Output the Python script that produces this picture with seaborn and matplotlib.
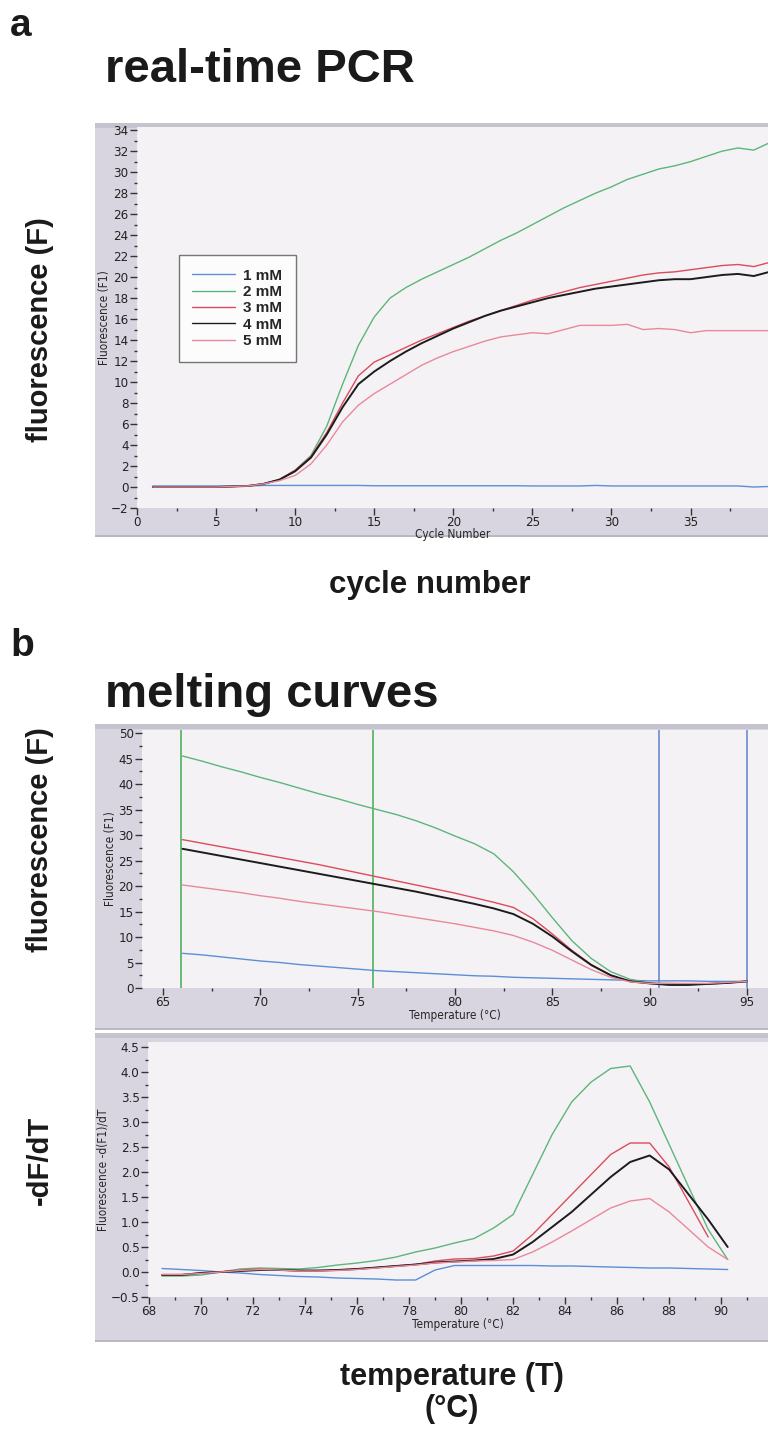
import numpy as np
import pandas as pd
import matplotlib
matplotlib.use("Agg")
import matplotlib.pyplot as plt
import seaborn as sns
from matplotlib import font_manager
from matplotlib.patches import Rectangle
from matplotlib.ticker import MultipleLocator

# ---- a: real-time PCR (fluorescence per cycle) ----
cycles = list(range(1, 41))
pcr_1mM = [0.1, 0.1, 0.1, 0.1, 0.1, 0.1, 0.1, 0.15, 0.15, 0.15,
           0.15, 0.15, 0.15, 0.15, 0.12, 0.12, 0.12, 0.12, 0.12, 0.12,
           0.12, 0.12, 0.12, 0.12, 0.1, 0.1, 0.1, 0.1, 0.15, 0.1,
           0.1, 0.1, 0.1, 0.1, 0.1, 0.1, 0.1, 0.1, 0.0, 0.05]
pcr_2mM = [0.0, 0.0, 0.0, 0.0, 0.0, 0.05, 0.1, 0.3, 0.7, 1.6,
           3.0, 5.8, 9.8, 13.5, 16.2, 18.0, 19.0, 19.8, 20.5, 21.2,
           21.9, 22.7, 23.5, 24.2, 25.0, 25.8, 26.6, 27.3, 28.0, 28.6,
           29.3, 29.8, 30.3, 30.6, 31.0, 31.5, 32.0, 32.3, 32.1, 32.8]
pcr_3mM = [0.0, 0.0, 0.0, 0.0, 0.0, 0.05, 0.1, 0.3, 0.7, 1.6,
           2.9, 5.2, 8.0, 10.6, 11.9, 12.6, 13.3, 14.0, 14.6, 15.2,
           15.8, 16.3, 16.8, 17.3, 17.8, 18.2, 18.6, 19.0, 19.3, 19.6,
           19.9, 20.2, 20.4, 20.5, 20.7, 20.9, 21.1, 21.2, 21.0, 21.4]
pcr_4mM = [0.0, 0.0, 0.0, 0.0, 0.0, 0.05, 0.1, 0.3, 0.7, 1.5,
           2.8, 5.0, 7.6, 9.8, 11.0, 12.0, 12.9, 13.7, 14.4, 15.1,
           15.7, 16.3, 16.8, 17.2, 17.6, 18.0, 18.3, 18.6, 18.9, 19.1,
           19.3, 19.5, 19.7, 19.8, 19.8, 20.0, 20.2, 20.3, 20.1, 20.5]
pcr_5mM = [0.0, 0.0, 0.0, 0.0, 0.0, 0.05, 0.1, 0.3, 0.6, 1.1,
           2.2, 4.0, 6.2, 7.8, 8.9, 9.8, 10.7, 11.6, 12.3, 12.9,
           13.4, 13.9, 14.3, 14.5, 14.7, 14.6, 15.0, 15.4, 15.4, 15.4,
           15.5, 15.0, 15.1, 15.0, 14.7, 14.9, 14.9, 14.9, 14.9, 14.9]

# ---- b: melting curves (fluorescence vs temperature) ----
melt_temp = list(range(66, 96))
melt_1mM = [6.8, 6.5, 6.1, 5.7, 5.3, 5.0, 4.6, 4.3, 4.0, 3.7,
            3.4, 3.2, 3.0, 2.8, 2.6, 2.4, 2.3, 2.1, 2.0, 1.9,
            1.8, 1.7, 1.6, 1.5, 1.4, 1.4, 1.4, 1.3, 1.3, 1.3]
melt_2mM = [45.5, 44.5, 43.4, 42.4, 41.3, 40.3, 39.2, 38.1, 37.1, 36.0,
            35.0, 34.0, 32.8, 31.4, 29.8, 28.3, 26.3, 22.8, 18.5, 13.8,
            9.3, 5.8, 3.2, 1.7, 1.0, 0.9, 0.8, 0.8, 1.0, 1.4]
melt_3mM = [29.1, 28.4, 27.7, 27.0, 26.3, 25.6, 24.9, 24.2, 23.4, 22.6,
            21.8, 21.0, 20.2, 19.4, 18.6, 17.7, 16.8, 15.8, 13.6, 10.6,
            7.4, 4.6, 2.5, 1.3, 0.9, 0.8, 0.8, 0.8, 1.0, 1.3]
melt_4mM = [27.3, 26.6, 25.9, 25.2, 24.5, 23.8, 23.1, 22.4, 21.7, 21.0,
            20.3, 19.6, 18.9, 18.1, 17.3, 16.5, 15.6, 14.5, 12.6, 10.1,
            7.2, 4.5, 2.5, 1.3, 0.9, 0.6, 0.6, 0.8, 1.0, 1.3]
melt_5mM = [20.2, 19.7, 19.2, 18.7, 18.1, 17.6, 17.0, 16.5, 16.0, 15.5,
            15.0, 14.4, 13.8, 13.2, 12.6, 11.9, 11.2, 10.3, 9.0, 7.4,
            5.5, 3.6, 2.1, 1.2, 0.9, 0.9, 0.9, 0.9, 1.1, 1.3]
green_cursors = [65.9, 75.8]
blue_cursors = [90.5, 95.0]

# ---- b: derivative -dF/dT ----
deriv_temp = [68.5, 69.25, 70.0, 70.75, 71.5, 72.25, 73.0, 73.75, 74.5, 75.25,
              76.0, 76.75, 77.5, 78.25, 79.0, 79.75, 80.5, 81.25, 82.0, 82.75,
              83.5, 84.25, 85.0, 85.75, 86.5, 87.25, 88.0, 88.75, 89.5, 90.25]
deriv_1mM = [0.07, 0.05, 0.03, 0.0, -0.02, -0.05, -0.07, -0.09, -0.1, -0.12,
             -0.13, -0.14, -0.16, -0.16, 0.04, 0.13, 0.13, 0.13, 0.13, 0.13,
             0.12, 0.12, 0.11, 0.1, 0.09, 0.08, 0.08, 0.07, 0.06, 0.05]
deriv_2mM = [-0.08, -0.08, -0.06, 0.0, 0.06, 0.08, 0.07, 0.06, 0.09, 0.14,
             0.18, 0.23, 0.3, 0.4, 0.48, 0.58, 0.67, 0.88, 1.15, 1.95,
             2.75, 3.4, 3.8, 4.07, 4.12, 3.4, 2.55, 1.7, 0.85, 0.25]
deriv_3mM = [-0.05, -0.05, -0.02, 0.0, 0.04, 0.06, 0.04, 0.02, 0.02, 0.04,
             0.06, 0.09, 0.12, 0.15, 0.22, 0.26, 0.27, 0.32, 0.42, 0.75,
             1.15, 1.55, 1.95, 2.35, 2.58, 2.58, 2.1, 1.4, 0.7, None]
deriv_4mM = [-0.06, -0.06, -0.02, 0.0, 0.02, 0.04, 0.04, 0.03, 0.03, 0.04,
             0.06, 0.09, 0.12, 0.15, 0.19, 0.21, 0.23, 0.26, 0.35, 0.6,
             0.9, 1.2, 1.55, 1.9, 2.2, 2.33, 2.05, 1.55, 1.05, 0.5]
deriv_5mM = [-0.05, -0.05, -0.03, 0.0, 0.03, 0.05, 0.04, 0.02, 0.02, 0.03,
             0.05, 0.08, 0.11, 0.14, 0.18, 0.2, 0.22, 0.23, 0.25, 0.4,
             0.6, 0.82, 1.05, 1.28, 1.42, 1.47, 1.2, 0.85, 0.5, 0.25]

labels = ["1 mM", "2 mM", "3 mM", "4 mM", "5 mM"]
palette = {"1 mM": "#5b8fd6", "2 mM": "#5cb67a", "3 mM": "#dc4b5c",
           "4 mM": "#1c1c1c", "5 mM": "#e8899a"}


def long_df(x, series):
    frames = []
    for lab, vals in zip(labels, series):
        frames.append(pd.DataFrame({"x": x, "y": vals, "conc": lab}))
    df = pd.concat(frames, ignore_index=True)
    return df.dropna()


pcr = long_df(cycles, [pcr_1mM, pcr_2mM, pcr_3mM, pcr_4mM, pcr_5mM])
melt = long_df(melt_temp, [melt_1mM, melt_2mM, melt_3mM, melt_4mM, melt_5mM])
deriv = long_df(deriv_temp, [deriv_1mM, deriv_2mM, deriv_3mM, deriv_4mM, deriv_5mM])

sns.set_theme(style="white")
avail = {f.name for f in font_manager.fontManager.ttflist}
narrow = "Liberation Sans Narrow" if "Liberation Sans Narrow" in avail else "DejaVu Sans"
plt.rcParams["font.family"] = ["Liberation Sans", "DejaVu Sans"]
# small instrument-style labels use a condensed face when one is installed
plt.rcParams["font.stretch"] = "condensed"

W, H = 768, 1432
fig = plt.figure(figsize=(W / 100, H / 100), dpi=100)
fig.patch.set_facecolor("white")


def px(x0, y0, x1, y1):
    return [x0 / W, 1 - y1 / H, (x1 - x0) / W, (y1 - y0) / H]


frame_col = "#d8d5e0"
band_col = "#c5c3ce"
plot_col = "#f5f2f6"

for (y0, y1) in [(123, 537), (724, 1030), (1033, 1342)]:
    fig.patches.append(Rectangle(px(95, y0, 768, y1)[:2], (768 - 95) / W, (y1 - y0) / H,
                                 transform=fig.transFigure, facecolor=frame_col,
                                 edgecolor="none", zorder=-2))
    fig.patches.append(Rectangle(px(95, y0, 768, y0 + 5)[:2], (768 - 95) / W, 5 / H,
                                 transform=fig.transFigure, facecolor=band_col,
                                 edgecolor="none", zorder=-1))
    fig.patches.append(Rectangle(px(95, y1 - 2, 768, y1)[:2], (768 - 95) / W, 2 / H,
                                 transform=fig.transFigure, facecolor="#b9b7c2",
                                 edgecolor="none", zorder=-1))


def style_axes(ax, xmaj, xmin, ymaj, ymin):
    ax.set_facecolor(plot_col)
    for s in ax.spines.values():
        s.set_visible(False)
    ax.xaxis.set_major_locator(MultipleLocator(xmaj))
    ax.xaxis.set_minor_locator(MultipleLocator(xmin))
    ax.yaxis.set_major_locator(MultipleLocator(ymaj))
    ax.yaxis.set_minor_locator(MultipleLocator(ymin))
    ax.tick_params(which="both", bottom=True, left=True, direction="out",
                   color="#333333", width=1.0, labelcolor="#222222",
                   labelfontfamily=narrow)
    ax.tick_params(which="major", length=5, labelsize=9.5, pad=1)
    ax.tick_params(which="minor", length=2.5)
    ax.grid(False)


def thicken_black(ax):
    for ln in ax.lines:
        if matplotlib.colors.to_hex(ln.get_color()) == palette["4 mM"]:
            ln.set_linewidth(1.4)


# ---- panel a ----
ax1 = fig.add_axes(px(137, 127, 768, 508))
sns.lineplot(data=pcr, x="x", y="y", hue="conc", palette=palette,
             linewidth=1.0, ax=ax1)
ax1.set_xlim(0, 39.9)
ax1.set_ylim(-2, 34.3)
style_axes(ax1, 5, 2.5, 2, 1)
thicken_black(ax1)
ax1.set_xlabel("Cycle Number", fontsize=8.5, family=narrow, labelpad=-1)
ax1.set_ylabel("Fluorescence (F1)", fontsize=8.5, family=narrow, labelpad=0)
h, l = ax1.get_legend_handles_labels()
leg = ax1.legend(h, l, loc="upper left", bbox_to_anchor=(0.066, 0.664),
                 borderaxespad=0, frameon=True, fancybox=False, handlelength=2.8,
                 handletextpad=0.5, borderpad=0.9, labelspacing=0.15,
                 prop={"weight": "bold", "size": 11, "stretch": "normal"})
leg.get_frame().set_edgecolor("#555555")
leg.get_frame().set_facecolor("white")
leg.get_frame().set_linewidth(1.0)
for lh in leg.get_lines():
    lh.set_linewidth(1.0)

# ---- panel b: melting curves ----
ax2 = fig.add_axes(px(142, 730, 768, 988))
for xv in green_cursors:
    ax2.axvline(xv, color="#4fb25e", linewidth=1.2, zorder=1)
for xv in blue_cursors:
    ax2.axvline(xv, color="#6c8ccc", linewidth=1.2, zorder=1)
sns.lineplot(data=melt, x="x", y="y", hue="conc", palette=palette,
             linewidth=1.0, ax=ax2, legend=False)
ax2.set_xlim(63.92, 96.08)
ax2.set_ylim(0, 50.6)
style_axes(ax2, 5, 2.5, 5, 2.5)
thicken_black(ax2)
ax2.set_xlabel("Temperature (°C)", fontsize=8.5, family=narrow, labelpad=0)
ax2.set_ylabel("Fluorescence (F1)", fontsize=8.5, family=narrow, labelpad=1)

# ---- panel b: derivative ----
ax3 = fig.add_axes(px(148, 1042, 768, 1297))
sns.lineplot(data=deriv, x="x", y="y", hue="conc", palette=palette,
             linewidth=1.0, ax=ax3, legend=False)
ax3.set_xlim(67.96, 91.8)
ax3.set_ylim(-0.5, 4.6)
style_axes(ax3, 2, 1, 0.5, 0.25)
thicken_black(ax3)
ax3.set_xlabel("Temperature (°C)", fontsize=8.5, family=narrow, labelpad=0)
ax3.set_ylabel("Fluorescence -d(F1)/dT", fontsize=8.5, family=narrow, labelpad=1)

# ---- figure text ----
big = dict(fontweight="bold", color="#1a1a1a", fontstretch="normal")
fig.text(10 / W, 1 - 8 / H, "a", fontsize=28, va="top", ha="left", **big)
fig.text(105 / W, 1 - 48 / H, "real-time PCR", fontsize=34, va="top", ha="left", **big)
fig.text(40 / W, 1 - 330 / H, "fluorescence (F)", fontsize=21, rotation=90,
         va="center", ha="center", **big)
fig.text(430 / W, 1 - 585 / H, "cycle number", fontsize=22.5, va="center", ha="center", **big)
fig.text(10 / W, 1 - 628 / H, "b", fontsize=28, va="top", ha="left", **big)
fig.text(105 / W, 1 - 673 / H, "melting curves", fontsize=34, va="top", ha="left", **big)
fig.text(40 / W, 1 - 840 / H, "fluorescence (F)", fontsize=21, rotation=90,
         va="center", ha="center", **big)
fig.text(40 / W, 1 - 1160 / H, "-dF/dT", fontsize=21, rotation=90,
         va="center", ha="center", **big)
fig.text(452 / W, 1 - 1393 / H, "temperature (T)\n(°C)", fontsize=22, va="center",
         ha="center", linespacing=1.05, **big)

fig.savefig("out.png", dpi=100, facecolor="white")
